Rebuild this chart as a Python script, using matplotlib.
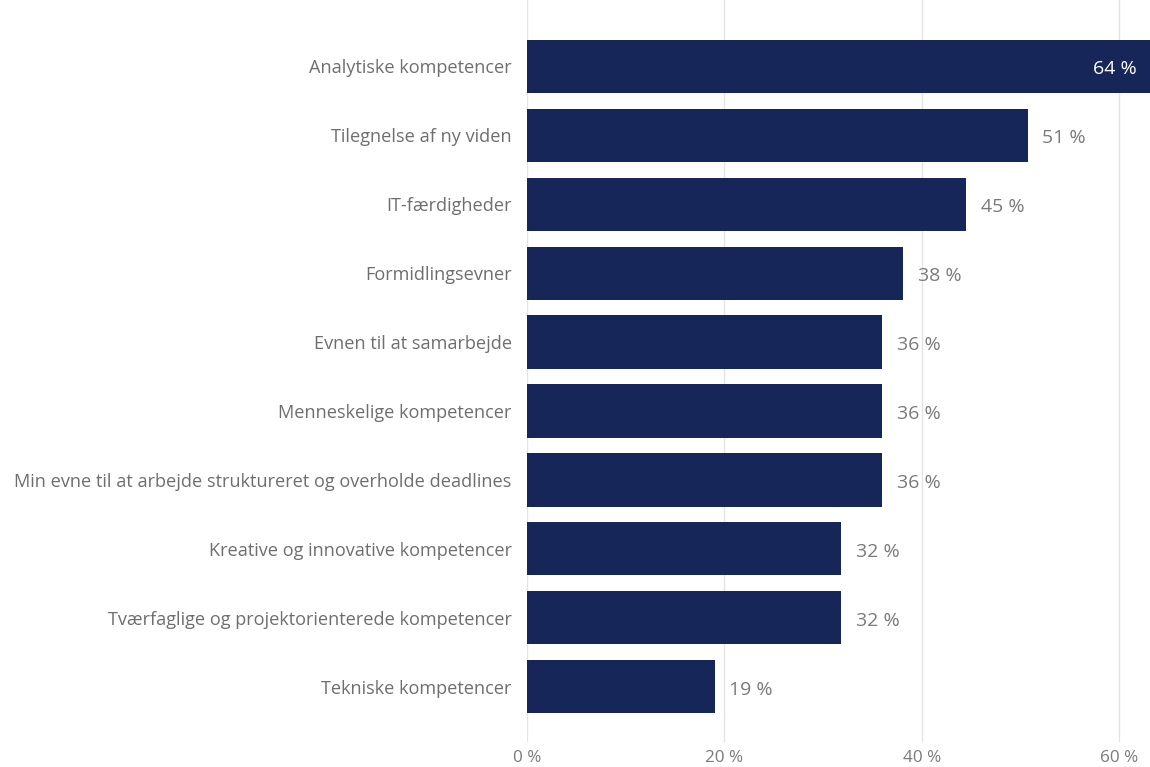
import matplotlib.pyplot as plt

categories = [
    "Analytiske kompetencer",
    "Tilegnelse af ny viden",
    "IT-færdigheder",
    "Formidlingsevner",
    "Evnen til at samarbejde",
    "Menneskelige kompetencer",
    "Min evne til at arbejde struktureret og overholde deadlines",
    "Kreative og innovative kompetencer",
    "Tværfaglige og projektorienterede kompetencer",
    "Tekniske kompetencer",
]
values = [64.0, 50.7, 44.5, 38.1, 36.0, 36.0, 36.0, 31.8, 31.8, 19.0]
value_labels = ["64 %", "51 %", "45 %", "38 %", "36 %", "36 %", "36 %", "32 %", "32 %", "19 %"]
x_ticks = [0, 20, 40, 60]

plt.rcParams['font.family'] = ['Open Sans', 'DejaVu Sans']

fig = plt.figure(figsize=(11.5, 7.67), dpi=100)
ax = fig.add_axes([527 / 1150, 1 - 742 / 767, 1 - 527 / 1150, 742 / 767])

bar_color = "#162658"
y = list(range(len(categories)))
ax.barh(y, values, height=0.77, color=bar_color, zorder=3)

xmax = 63.1
ax.set_xlim(0, xmax)
ax.set_ylim(len(categories) - 0.2, -0.96)

for yi, v, lab in zip(y, values, value_labels):
    if v > xmax - 5:
        ax.text(xmax - 1.3, yi + 0.04, lab, ha='right', va='center',
                color='white', fontsize=14, zorder=4)
    else:
        ax.text(v + 1.5, yi + 0.04, lab, ha='left', va='center',
                color='#7a7a7a', fontsize=14, zorder=4)

ax.set_yticks(y)
ax.set_yticklabels(categories, fontsize=13.1, color='#6e6e6e')
ax.set_xticks(x_ticks)
ax.set_xticklabels([f"{t} %" for t in x_ticks], fontsize=12.3, color='#7a7a7a')
ax.tick_params(axis='both', length=0)
ax.tick_params(axis='y', pad=11)
ax.tick_params(axis='x', pad=6)

ax.grid(axis='x', color='#e4e4e4', linewidth=1, zorder=0)
for s in ax.spines.values():
    s.set_visible(False)

fig.savefig("out.png", dpi=100)
